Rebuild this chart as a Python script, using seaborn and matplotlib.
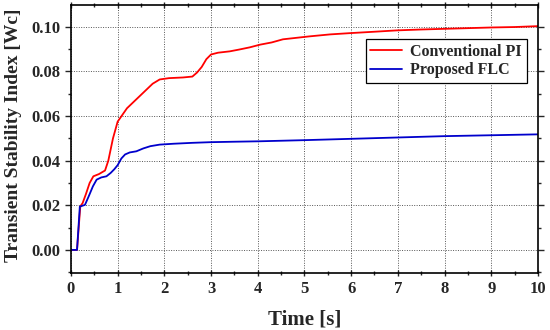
import matplotlib
matplotlib.use("Agg")
import matplotlib.pyplot as plt
import seaborn as sns
import pandas as pd
from matplotlib.ticker import MultipleLocator

t_pi = [0.0, 0.1, 0.13, 0.2, 0.25, 0.32, 0.4, 0.48, 0.6, 0.73, 0.8, 0.9, 1.0, 1.1, 1.2, 1.3, 1.45, 1.6, 1.75, 1.9, 2.1, 2.4, 2.6, 2.7, 2.8, 2.9, 3.0, 3.15, 3.4, 3.6, 3.83, 4.05, 4.3, 4.54, 4.8, 5.1, 5.55, 6.0, 6.5, 6.98, 7.5, 8.0, 8.5, 9.0, 9.5, 10.0]
pi_vals = [0.0, 0.0, 0.0, 0.0195, 0.021, 0.025, 0.03, 0.033, 0.034, 0.0356, 0.04, 0.05, 0.0575, 0.0605, 0.0635, 0.0655, 0.0685, 0.0715, 0.0745, 0.0764, 0.077, 0.0773, 0.0777, 0.0795, 0.082, 0.0855, 0.0876, 0.0884, 0.089, 0.0898, 0.0908, 0.092, 0.093, 0.0944, 0.095, 0.0957, 0.0966, 0.0972, 0.0978, 0.0984, 0.0988, 0.0991, 0.0994, 0.0997, 0.0999, 0.1003]

t_flc = [0.0, 0.1, 0.13, 0.19, 0.3, 0.38, 0.47, 0.55, 0.65, 0.76, 0.85, 0.93, 1.0, 1.08, 1.16, 1.26, 1.4, 1.55, 1.7, 1.9, 2.2, 2.6, 3.0, 3.5, 4.05, 5.0, 6.0, 7.0, 8.0, 9.0, 10.0]
flc_vals = [0.0, 0.0, 0.0, 0.0194, 0.0202, 0.024, 0.0285, 0.0315, 0.0325, 0.033, 0.0345, 0.0362, 0.038, 0.041, 0.0428, 0.0437, 0.0442, 0.0455, 0.0465, 0.0472, 0.0476, 0.048, 0.0483, 0.0485, 0.0487, 0.0492, 0.0498, 0.0504, 0.051, 0.0514, 0.0518]

labels = ["Conventional PI", "Proposed FLC"]

df = pd.concat([
    pd.DataFrame({"t": t_pi, "v": pi_vals, "s": labels[0]}),
    pd.DataFrame({"t": t_flc, "v": flc_vals, "s": labels[1]}),
])

sns.set_style("white")
plt.rcParams["font.family"] = ["Liberation Serif", "DejaVu Serif"]
plt.rcParams["font.weight"] = "bold"

fig = plt.figure(figsize=(5.5, 3.3), dpi=100)
ax = fig.add_axes([0.129, 0.173, 0.849, 0.812])

sns.lineplot(data=df, x="t", y="v", hue="s", hue_order=labels,
             palette={labels[0]: "#ff0000", labels[1]: "#0000cc"},
             linewidth=1.3, ax=ax, sort=False, estimator=None)

ax.set_xlim(0, 10)
ax.set_ylim(-0.0103, 0.1098)
ax.xaxis.set_major_locator(MultipleLocator(1))
ax.xaxis.set_minor_locator(MultipleLocator(0.5))
ax.yaxis.set_major_locator(MultipleLocator(0.02))
ax.yaxis.set_minor_locator(MultipleLocator(0.01))
ax.yaxis.set_major_formatter(matplotlib.ticker.FormatStrFormatter("%.2f"))
ax.grid(True, which="major", linestyle=(0, (1, 1.5)), color="#555555", linewidth=0.7)

for s in ax.spines.values():
    s.set_color("black")
    s.set_linewidth(1.2)

ax.tick_params(axis="x", which="both", direction="inout", top=True, bottom=True, labelsize=12)
ax.tick_params(axis="y", which="both", direction="out", left=True, right=True, labelsize=12)
ax.tick_params(which="major", length=4, width=1)
ax.tick_params(which="minor", length=2.5, width=1)
for lab in ax.get_xticklabels() + ax.get_yticklabels():
    lab.set_fontweight("bold")

ax.set_xlabel("Time [s]", fontsize=15, fontweight="bold", labelpad=9)
ax.set_ylabel("Transient Stability Index [Wc]", fontsize=14, fontweight="bold", labelpad=6)
ax.yaxis.set_label_coords(-0.105, 0.515)

leg = ax.legend(loc="upper right", bbox_to_anchor=(0.983, 0.885), fontsize=11.5,
                frameon=True, fancybox=False, edgecolor="black", framealpha=1,
                borderpad=0.3, handlelength=2.0, handletextpad=0.5,
                labelspacing=0.15, borderaxespad=0.2)
leg.get_frame().set_linewidth(0.9)
for txt in leg.get_texts():
    txt.set_fontweight("bold")

fig.savefig("out.png", dpi=100)
